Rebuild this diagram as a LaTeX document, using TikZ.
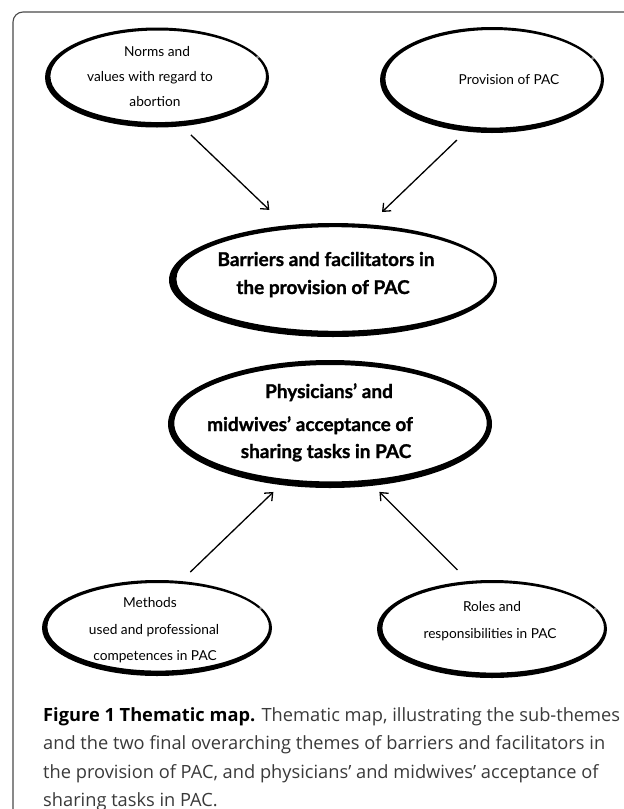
\documentclass[tikz,border=0pt]{standalone}
\usepackage{fontspec}
\usetikzlibrary{shapes.geometric,arrows.meta,calc}
\newfontfamily\gill{Lato}[BoldFeatures={FakeBold=1.2}]
\newfontfamily\capfont{Open Sans}
\definecolor{captxt}{HTML}{3A3A3A}
\definecolor{framec}{HTML}{4A4A4A}
\newcommand{\brushring}[6]{%
  \fill[even odd rule,black] (#1.center) ellipse [x radius=#2pt, y radius=#3pt]
    ($(#1.center)+(#5,#6)$) ellipse [x radius=#2pt-#4pt, y radius=#3pt-#4pt];}
\begin{document}
\begin{tikzpicture}[x=1pt,y=-1pt,
  shapebox/.style={ellipse, inner sep=0pt, outer sep=0pt, draw=none},
  small/.style={font=\gill\fontsize{13.7}{15}\selectfont, anchor=base, inner sep=0pt},
  big/.style={font=\gill\bfseries\fontsize{19}{21}\selectfont, anchor=base, inner sep=0pt},
  capline/.style={font=\capfont\fontsize{18.25}{20}\selectfont, text=captxt, anchor=base west, inner sep=0pt},
  arr/.style={line width=1.3pt, -{Straight Barb[length=6.5pt,width=11pt]}}]
\useasboundingbox (0,0) rectangle (624,809);
\clip (0,0) rectangle (624,809);
\fill[white] (0,0) rectangle (624,809);
\draw[framec, line width=1.1pt, rounded corners=10pt] (13,840) -- (13,12) -- (660,12);

% ellipse nodes
\node[shapebox, minimum width=224pt, minimum height=100pt] (tl) at (157,77.5) {};
\node[shapebox, minimum width=224pt, minimum height=106pt] (tr) at (492,80) {};
\node[shapebox, minimum width=328pt, minimum height=114pt] (bar) at (333,280) {};
\node[shapebox, minimum width=324pt, minimum height=128pt] (phys) at (330,424) {};
\node[shapebox, minimum width=230pt, minimum height=96pt] (bl) at (157,628) {};
\node[shapebox, minimum width=230pt, minimum height=98pt] (br) at (492,629) {};

% brushed outlines
\brushring{tl}{112}{50}{4.2}{1.2}{-1.2}
\brushring{tr}{112}{53}{4.2}{1.2}{-1.2}
\brushring{bl}{115}{48}{4.2}{1.2}{-1.2}
\brushring{br}{115}{49}{4.2}{1.2}{-1.2}
\brushring{bar}{164}{57}{5.2}{2.2}{-1.0}
\brushring{phys}{162}{64}{5.8}{0.5}{-0.8}

% faded top-right parts of the sub-theme outlines
\foreach \n/\a/\b in {tl/112/50, tr/112/53, bl/115/48, br/115/49}{
  \draw[white, opacity=0.5, line width=2.4pt]
    ($(\n.center)+({\a*cos(25)},{-\b*sin(25)})$)
    arc [start angle=25, end angle=70, x radius=\a pt-1.2pt, y radius=-\b pt+1.2pt];
}

% texts
\node[small] (t1a) at (157,56) {Norms and};
\node[small] (t1b) at (150,81) {values with regard to};
\node[small] (t1c) at (155,106) {abortion};
\node[small] (t2a) at (509,84) {Provision of PAC};
\node[big] (t3a) at (326,266) {Barriers and facilitators in};
\node[big] (t3b) at (323,294) {the provision of PAC};
\node[big] (t4a) at (329,398) {Physicians’ and};
\node[big] (t4b) at (310,431) {midwives’ acceptance of};
\node[big] (t4c) at (326,458) {sharing tasks in PAC};
\node[small] (t5a) at (150,607) {Methods};
\node[small] (t5b) at (154,634) {used and professional};
\node[small] (t5c) at (155,660) {competences in PAC};
\node[small] (t6a) at (492,611) {Roles and};
\node[small] (t6b) at (490,638) {responsibilities in PAC};

% connectors
\draw[arr, shorten <=12.5pt, shorten >=22.5pt] (tl.-63.8) -- (bar.131.9);
\draw[arr, shorten <=12.2pt, shorten >=17.9pt] (tr.-117.0) -- (bar.57.0);
\draw[arr, shorten <=13.0pt, shorten >=10.1pt] (bl.63.3) -- (phys.-129.2);
\draw[arr, shorten <=15.8pt, shorten >=8.8pt] (br.116.4) -- (phys.-55.9);

% caption
\node[capline] (c1) at (43,721) {\textcolor{black}{\bfseries Figure 1 Thematic map.} Thematic map, illustrating the sub-themes};
\node[capline] (c2) at (43,749) {and the two final overarching themes of barriers and facilitators in};
\node[capline] (c3) at (43,778) {the provision of PAC, and physicians’ and midwives’ acceptance of};
\node[capline] (c4) at (43,806) {sharing tasks in PAC.};
\end{tikzpicture}
\end{document}
